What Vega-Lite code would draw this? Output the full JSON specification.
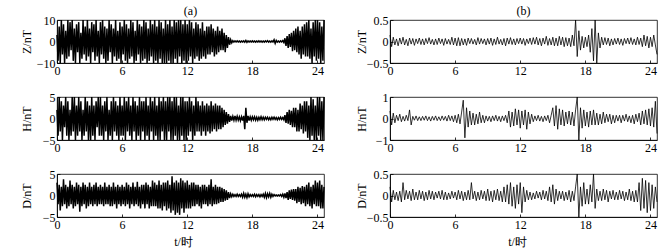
{
"$schema":"https://vega.github.io/schema/vega-lite/v6.json",
"background":"white",
"padding":{"left":19,"top":4,"right":0,"bottom":0},
"columns":2,
"bounds":"flush",
"spacing":{"row":34,"column":66},
"config":{
 "font":"Liberation Serif",
 "view":{"stroke":"black","strokeWidth":0.8},
 "axis":{"domainColor":"black","domainWidth":0.8,"tickColor":"black","tickWidth":0.8,"tickSize":-3,"labelPadding":5,"labelColor":"black","titleColor":"black","labelFont":"Liberation Serif","titleFont":"Liberation Serif","labelFontSize":12,"titleFontSize":12,"titleFontWeight":"normal","grid":false,"labelFlush":false,"titleBaseline":"middle","format":"~r"},
 "title":{"font":"Liberation Serif","fontSize":12,"fontWeight":"normal","offset":-4,"color":"black","frame":"group"},
 "line":{"color":"black","clip":true,"strokeWidth":1.5}
},
"datasets":{
"Za":[{"t":0,"v":3},{"t":0.1,"v":-9},{"t":0.2,"v":7},{"t":0.3,"v":-10},{"t":0.4,"v":10},{"t":0.5,"v":-6},{"t":0.6,"v":8},{"t":0.7,"v":-10},{"t":0.8,"v":5},{"t":0.9,"v":-8},
{"t":1,"v":10},{"t":1.1,"v":-7},{"t":1.2,"v":9},{"t":1.3,"v":-4},{"t":1.4,"v":10},{"t":1.5,"v":-9},{"t":1.6,"v":6},{"t":1.7,"v":-10},{"t":1.8,"v":8},{"t":1.9,"v":-5},
{"t":2,"v":9},{"t":2.1,"v":-10},{"t":2.2,"v":4},{"t":2.3,"v":-8},{"t":2.4,"v":10},{"t":2.5,"v":-6},{"t":2.6,"v":7},{"t":2.7,"v":-9},{"t":2.8,"v":10},{"t":2.9,"v":-7},
{"t":3,"v":6},{"t":3.1,"v":-10},{"t":3.2,"v":9},{"t":3.3,"v":-5},{"t":3.4,"v":8},{"t":3.5,"v":-9},{"t":3.6,"v":10},{"t":3.7,"v":-7},{"t":3.8,"v":5},{"t":3.9,"v":-10},
{"t":4,"v":9},{"t":4.1,"v":-6},{"t":4.2,"v":10},{"t":4.3,"v":-8},{"t":4.4,"v":7},{"t":4.5,"v":-10},{"t":4.6,"v":6},{"t":4.7,"v":-9},{"t":4.8,"v":10},{"t":4.9,"v":-5},
{"t":5,"v":8},{"t":5.1,"v":-10},{"t":5.2,"v":6},{"t":5.3,"v":-7},{"t":5.4,"v":10},{"t":5.5,"v":-9},{"t":5.6,"v":5},{"t":5.7,"v":-8},{"t":5.8,"v":9},{"t":5.9,"v":-10},
{"t":6,"v":7},{"t":6.1,"v":-6},{"t":6.2,"v":10},{"t":6.3,"v":-9},{"t":6.4,"v":8},{"t":6.5,"v":-10},{"t":6.6,"v":6},{"t":6.7,"v":-8},{"t":6.8,"v":10},{"t":6.9,"v":-7},
{"t":7,"v":9},{"t":7.1,"v":-10},{"t":7.2,"v":5},{"t":7.3,"v":-9},{"t":7.4,"v":10},{"t":7.5,"v":-6},{"t":7.6,"v":8},{"t":7.7,"v":-10},{"t":7.8,"v":7},{"t":7.9,"v":-9},
{"t":8,"v":10},{"t":8.1,"v":-8},{"t":8.2,"v":9},{"t":8.3,"v":-10},{"t":8.4,"v":6},{"t":8.5,"v":-9},{"t":8.6,"v":10},{"t":8.7,"v":-7},{"t":8.8,"v":8},{"t":8.9,"v":-10},
{"t":9,"v":10},{"t":9.1,"v":-9},{"t":9.2,"v":7},{"t":9.3,"v":-10},{"t":9.4,"v":10},{"t":9.5,"v":-8},{"t":9.6,"v":9},{"t":9.7,"v":-10},{"t":9.8,"v":6},{"t":9.9,"v":-10},
{"t":10,"v":10},{"t":10.1,"v":-10},{"t":10.2,"v":8},{"t":10.3,"v":-9},{"t":10.4,"v":10},{"t":10.5,"v":-10},{"t":10.6,"v":7},{"t":10.7,"v":-10},{"t":10.8,"v":10},{"t":10.9,"v":-8},
{"t":11,"v":9},{"t":11.1,"v":-10},{"t":11.2,"v":10},{"t":11.3,"v":-7},{"t":11.4,"v":10},{"t":11.5,"v":-10},{"t":11.6,"v":8},{"t":11.7,"v":-9},{"t":11.8,"v":10},{"t":11.9,"v":-10},
{"t":12,"v":8},{"t":12.1,"v":-9},{"t":12.2,"v":10},{"t":12.3,"v":-7},{"t":12.4,"v":9},{"t":12.5,"v":-10},{"t":12.6,"v":6},{"t":12.7,"v":-8},{"t":12.8,"v":9},{"t":12.9,"v":-7},
{"t":13,"v":8},{"t":13.1,"v":-9},{"t":13.2,"v":6},{"t":13.3,"v":-8},{"t":13.4,"v":9},{"t":13.5,"v":-7},{"t":13.6,"v":5},{"t":13.7,"v":-8},{"t":13.8,"v":7},{"t":13.9,"v":-6},
{"t":14,"v":7},{"t":14.1,"v":-6},{"t":14.2,"v":8},{"t":14.3,"v":-5},{"t":14.4,"v":6},{"t":14.5,"v":-7},{"t":14.6,"v":5},{"t":14.7,"v":-6},{"t":14.8,"v":7},{"t":14.9,"v":-5},
{"t":15,"v":5},{"t":15.1,"v":-4},{"t":15.2,"v":6},{"t":15.3,"v":-4},{"t":15.4,"v":4},{"t":15.5,"v":-5},{"t":15.6,"v":3},{"t":15.7,"v":-3},{"t":15.8,"v":2},{"t":15.9,"v":-1.5},
{"t":16,"v":0.8},{"t":16.1,"v":-0.6},{"t":16.2,"v":0.4},{"t":16.3,"v":-0.3},{"t":16.4,"v":0.3},{"t":16.5,"v":-0.2},{"t":16.6,"v":0.3},{"t":16.7,"v":-0.2},{"t":16.8,"v":0.2},{"t":16.9,"v":-0.3},
{"t":17,"v":0.2},{"t":17.1,"v":-0.2},{"t":17.2,"v":0.3},{"t":17.3,"v":-0.3},{"t":17.4,"v":0.5},{"t":17.5,"v":-0.4},{"t":17.6,"v":0.3},{"t":17.7,"v":-0.2},{"t":17.8,"v":0.2},{"t":17.9,"v":-0.2},
{"t":18,"v":0.3},{"t":18.1,"v":-0.2},{"t":18.2,"v":0.2},{"t":18.3,"v":-0.3},{"t":18.4,"v":0.2},{"t":18.5,"v":-0.2},{"t":18.6,"v":0.3},{"t":18.7,"v":-0.2},{"t":18.8,"v":0.2},{"t":18.9,"v":-0.3},
{"t":19,"v":0.2},{"t":19.1,"v":-0.3},{"t":19.2,"v":0.3},{"t":19.3,"v":-0.2},{"t":19.4,"v":0.4},{"t":19.5,"v":-0.3},{"t":19.6,"v":0.2},{"t":19.7,"v":-0.3},{"t":19.8,"v":0.3},{"t":19.9,"v":-0.2},
{"t":20,"v":0.8},{"t":20.1,"v":-0.9},{"t":20.2,"v":0.5},{"t":20.3,"v":-0.3},{"t":20.4,"v":0.2},{"t":20.5,"v":-0.3},{"t":20.6,"v":0.3},{"t":20.7,"v":-0.2},{"t":20.8,"v":0.4},{"t":20.9,"v":-0.5},
{"t":21,"v":1.5},{"t":21.1,"v":-2},{"t":21.2,"v":2.5},{"t":21.3,"v":-3},{"t":21.4,"v":3.5},{"t":21.5,"v":-2.5},{"t":21.6,"v":4},{"t":21.7,"v":-4.5},{"t":21.8,"v":5},{"t":21.9,"v":-4},
{"t":22,"v":6},{"t":22.1,"v":-5},{"t":22.2,"v":7},{"t":22.3,"v":-6},{"t":22.4,"v":5},{"t":22.5,"v":-8},{"t":22.6,"v":7},{"t":22.7,"v":-6},{"t":22.8,"v":8},{"t":22.9,"v":-7},
{"t":23,"v":9},{"t":23.1,"v":-7},{"t":23.2,"v":10},{"t":23.3,"v":-8},{"t":23.4,"v":6},{"t":23.5,"v":-10},{"t":23.6,"v":9},{"t":23.7,"v":-7},{"t":23.8,"v":10},{"t":23.9,"v":-9},
{"t":24,"v":10},{"t":24.1,"v":-8},{"t":24.2,"v":9},{"t":24.3,"v":-10},{"t":24.4,"v":7},{"t":24.5,"v":-9},{"t":24.6,"v":10}],
"Ha":[{"t":0,"v":2},{"t":0.1,"v":-4},{"t":0.2,"v":5},{"t":0.3,"v":-3},{"t":0.4,"v":4},{"t":0.5,"v":-5},{"t":0.6,"v":3},{"t":0.7,"v":-2},{"t":0.8,"v":5},{"t":0.9,"v":-4},
{"t":1,"v":4},{"t":1.1,"v":-5},{"t":1.2,"v":2},{"t":1.3,"v":-4},{"t":1.4,"v":5},{"t":1.5,"v":-3},{"t":1.6,"v":5},{"t":1.7,"v":-5},{"t":1.8,"v":3},{"t":1.9,"v":-4},
{"t":2,"v":5},{"t":2.1,"v":-3},{"t":2.2,"v":4},{"t":2.3,"v":-5},{"t":2.4,"v":2},{"t":2.5,"v":-4},{"t":2.6,"v":5},{"t":2.7,"v":-3},{"t":2.8,"v":4},{"t":2.9,"v":-5},
{"t":3,"v":3},{"t":3.1,"v":-5},{"t":3.2,"v":5},{"t":3.3,"v":-4},{"t":3.4,"v":3},{"t":3.5,"v":-5},{"t":3.6,"v":4},{"t":3.7,"v":-2},{"t":3.8,"v":5},{"t":3.9,"v":-4},
{"t":4,"v":5},{"t":4.1,"v":-4},{"t":4.2,"v":3},{"t":4.3,"v":-5},{"t":4.4,"v":4},{"t":4.5,"v":-3},{"t":4.6,"v":5},{"t":4.7,"v":-5},{"t":4.8,"v":2},{"t":4.9,"v":-4},
{"t":5,"v":4},{"t":5.1,"v":-5},{"t":5.2,"v":5},{"t":5.3,"v":-3},{"t":5.4,"v":4},{"t":5.5,"v":-4},{"t":5.6,"v":3},{"t":5.7,"v":-5},{"t":5.8,"v":5},{"t":5.9,"v":-4},
{"t":6,"v":3},{"t":6.1,"v":-4},{"t":6.2,"v":5},{"t":6.3,"v":-5},{"t":6.4,"v":4},{"t":6.5,"v":-3},{"t":6.6,"v":5},{"t":6.7,"v":-4},{"t":6.8,"v":3},{"t":6.9,"v":-5},
{"t":7,"v":5},{"t":7.1,"v":-3},{"t":7.2,"v":4},{"t":7.3,"v":-5},{"t":7.4,"v":3},{"t":7.5,"v":-4},{"t":7.6,"v":5},{"t":7.7,"v":-5},{"t":7.8,"v":4},{"t":7.9,"v":-3},
{"t":8,"v":4},{"t":8.1,"v":-5},{"t":8.2,"v":5},{"t":8.3,"v":-4},{"t":8.4,"v":3},{"t":8.5,"v":-5},{"t":8.6,"v":5},{"t":8.7,"v":-3},{"t":8.8,"v":4},{"t":8.9,"v":-5},
{"t":9,"v":5},{"t":9.1,"v":-4},{"t":9.2,"v":3},{"t":9.3,"v":-5},{"t":9.4,"v":5},{"t":9.5,"v":-5},{"t":9.6,"v":4},{"t":9.7,"v":-3},{"t":9.8,"v":5},{"t":9.9,"v":-5},
{"t":10,"v":4},{"t":10.1,"v":-5},{"t":10.2,"v":5},{"t":10.3,"v":-3},{"t":10.4,"v":5},{"t":10.5,"v":-5},{"t":10.6,"v":4},{"t":10.7,"v":-5},{"t":10.8,"v":5},{"t":10.9,"v":-4},
{"t":11,"v":5},{"t":11.1,"v":-5},{"t":11.2,"v":3},{"t":11.3,"v":-5},{"t":11.4,"v":5},{"t":11.5,"v":-4},{"t":11.6,"v":5},{"t":11.7,"v":-5},{"t":11.8,"v":4},{"t":11.9,"v":-5},
{"t":12,"v":4},{"t":12.1,"v":-4},{"t":12.2,"v":5},{"t":12.3,"v":-3},{"t":12.4,"v":4},{"t":12.5,"v":-5},{"t":12.6,"v":3},{"t":12.7,"v":-4},{"t":12.8,"v":5},{"t":12.9,"v":-3},
{"t":13,"v":4},{"t":13.1,"v":-3},{"t":13.2,"v":3},{"t":13.3,"v":-4},{"t":13.4,"v":4},{"t":13.5,"v":-3},{"t":13.6,"v":3},{"t":13.7,"v":-4},{"t":13.8,"v":3.5},{"t":13.9,"v":-3},
{"t":14,"v":3},{"t":14.1,"v":-3.5},{"t":14.2,"v":4},{"t":14.3,"v":-3},{"t":14.4,"v":3},{"t":14.5,"v":-2.5},{"t":14.6,"v":3.5},{"t":14.7,"v":-3},{"t":14.8,"v":3},{"t":14.9,"v":-2.5},
{"t":15,"v":3},{"t":15.1,"v":-2.5},{"t":15.2,"v":2.5},{"t":15.3,"v":-2},{"t":15.4,"v":2},{"t":15.5,"v":-1.5},{"t":15.6,"v":1.5},{"t":15.7,"v":-1.2},{"t":15.8,"v":1},{"t":15.9,"v":-0.8},
{"t":16,"v":0.6},{"t":16.1,"v":-0.5},{"t":16.2,"v":0.5},{"t":16.3,"v":-0.4},{"t":16.4,"v":0.6},{"t":16.5,"v":-0.4},{"t":16.6,"v":0.5},{"t":16.7,"v":-0.4},{"t":16.8,"v":0.4},{"t":16.9,"v":-0.5},
{"t":17,"v":0.4},{"t":17.1,"v":-0.5},{"t":17.2,"v":0.6},{"t":17.3,"v":-2.5},{"t":17.4,"v":2.5},{"t":17.5,"v":-1},{"t":17.6,"v":0.6},{"t":17.7,"v":-0.5},{"t":17.8,"v":0.4},{"t":17.9,"v":-0.4},
{"t":18,"v":0.4},{"t":18.1,"v":-0.3},{"t":18.2,"v":0.4},{"t":18.3,"v":-0.4},{"t":18.4,"v":0.3},{"t":18.5,"v":-0.4},{"t":18.6,"v":0.3},{"t":18.7,"v":-0.3},{"t":18.8,"v":0.4},{"t":18.9,"v":-0.3},
{"t":19,"v":0.3},{"t":19.1,"v":-0.3},{"t":19.2,"v":0.3},{"t":19.3,"v":-0.2},{"t":19.4,"v":0.3},{"t":19.5,"v":-0.3},{"t":19.6,"v":0.2},{"t":19.7,"v":-0.3},{"t":19.8,"v":0.3},{"t":19.9,"v":-0.2},
{"t":20,"v":0.3},{"t":20.1,"v":-0.2},{"t":20.2,"v":0.2},{"t":20.3,"v":-0.3},{"t":20.4,"v":0.2},{"t":20.5,"v":-0.2},{"t":20.6,"v":0.3},{"t":20.7,"v":-0.2},{"t":20.8,"v":0.2},{"t":20.9,"v":-0.3},
{"t":21,"v":0.8},{"t":21.1,"v":-1},{"t":21.2,"v":1.5},{"t":21.3,"v":-1.2},{"t":21.4,"v":2},{"t":21.5,"v":-1.5},{"t":21.6,"v":1.8},{"t":21.7,"v":-2},{"t":21.8,"v":2.5},{"t":21.9,"v":-2},
{"t":22,"v":2.5},{"t":22.1,"v":-3},{"t":22.2,"v":2},{"t":22.3,"v":-3},{"t":22.4,"v":3.5},{"t":22.5,"v":-2.5},{"t":22.6,"v":3},{"t":22.7,"v":-3.5},{"t":22.8,"v":4},{"t":22.9,"v":-3},
{"t":23,"v":4},{"t":23.1,"v":-4.5},{"t":23.2,"v":3},{"t":23.3,"v":-5},{"t":23.4,"v":5},{"t":23.5,"v":-4},{"t":23.6,"v":4.5},{"t":23.7,"v":-5},{"t":23.8,"v":3},{"t":23.9,"v":-5},
{"t":24,"v":5},{"t":24.1,"v":-4},{"t":24.2,"v":5},{"t":24.3,"v":-5},{"t":24.4,"v":4},{"t":24.5,"v":-5},{"t":24.6,"v":5}],
"Da":[{"t":0,"v":3},{"t":0.1,"v":-2},{"t":0.2,"v":2.5},{"t":0.3,"v":-3.5},{"t":0.4,"v":2},{"t":0.5,"v":-2.5},{"t":0.6,"v":3.8},{"t":0.7,"v":-2},{"t":0.8,"v":2.5},{"t":0.9,"v":-3},
{"t":1,"v":2},{"t":1.1,"v":-2.5},{"t":1.2,"v":3.5},{"t":1.3,"v":-2},{"t":1.4,"v":2.5},{"t":1.5,"v":-3},{"t":1.6,"v":2},{"t":1.7,"v":-2.5},{"t":1.8,"v":3},{"t":1.9,"v":-2},
{"t":2,"v":2.5},{"t":2.1,"v":-3.8},{"t":2.2,"v":2},{"t":2.3,"v":-2.5},{"t":2.4,"v":3},{"t":2.5,"v":-2},{"t":2.6,"v":2.5},{"t":2.7,"v":-3},{"t":2.8,"v":2},{"t":2.9,"v":-2.5},
{"t":3,"v":3},{"t":3.1,"v":-2},{"t":3.2,"v":2},{"t":3.3,"v":-2.5},{"t":3.4,"v":2.5},{"t":3.5,"v":-2},{"t":3.6,"v":3},{"t":3.7,"v":-2.5},{"t":3.8,"v":2},{"t":3.9,"v":-2},
{"t":4,"v":2.5},{"t":4.1,"v":-2},{"t":4.2,"v":2},{"t":4.3,"v":-2.5},{"t":4.4,"v":3},{"t":4.5,"v":-2},{"t":4.6,"v":2},{"t":4.7,"v":-2},{"t":4.8,"v":2.5},{"t":4.9,"v":-2.5},
{"t":5,"v":2},{"t":5.1,"v":-2.5},{"t":5.2,"v":3},{"t":5.3,"v":-2},{"t":5.4,"v":2},{"t":5.5,"v":-3},{"t":5.6,"v":2.5},{"t":5.7,"v":-2},{"t":5.8,"v":2},{"t":5.9,"v":-2.5},
{"t":6,"v":2.5},{"t":6.1,"v":-2},{"t":6.2,"v":2},{"t":6.3,"v":-2.5},{"t":6.4,"v":3},{"t":6.5,"v":-2},{"t":6.6,"v":2.5},{"t":6.7,"v":-3},{"t":6.8,"v":2},{"t":6.9,"v":-2},
{"t":7,"v":3},{"t":7.1,"v":-2.5},{"t":7.2,"v":2},{"t":7.3,"v":-2},{"t":7.4,"v":3.2},{"t":7.5,"v":-2.5},{"t":7.6,"v":2},{"t":7.7,"v":-3},{"t":7.8,"v":2.5},{"t":7.9,"v":-2},
{"t":8,"v":2.5},{"t":8.1,"v":-3},{"t":8.2,"v":3},{"t":8.3,"v":-2},{"t":8.4,"v":2.5},{"t":8.5,"v":-3},{"t":8.6,"v":2},{"t":8.7,"v":-2.5},{"t":8.8,"v":3.5},{"t":8.9,"v":-2.5},
{"t":9,"v":3},{"t":9.1,"v":-2.5},{"t":9.2,"v":2.5},{"t":9.3,"v":-3},{"t":9.4,"v":3.5},{"t":9.5,"v":-3},{"t":9.6,"v":2.5},{"t":9.7,"v":-3.5},{"t":9.8,"v":3},{"t":9.9,"v":-2.5},
{"t":10,"v":3},{"t":10.1,"v":-3.5},{"t":10.2,"v":3.5},{"t":10.3,"v":-3},{"t":10.4,"v":2.5},{"t":10.5,"v":-4},{"t":10.6,"v":4.5},{"t":10.7,"v":-3.5},{"t":10.8,"v":3},{"t":10.9,"v":-4.5},
{"t":11,"v":3.5},{"t":11.1,"v":-4},{"t":11.2,"v":3},{"t":11.3,"v":-4.5},{"t":11.4,"v":4},{"t":11.5,"v":-3},{"t":11.6,"v":3.5},{"t":11.7,"v":-4},{"t":11.8,"v":3},{"t":11.9,"v":-3},
{"t":12,"v":3.5},{"t":12.1,"v":-3},{"t":12.2,"v":2.5},{"t":12.3,"v":-3},{"t":12.4,"v":3},{"t":12.5,"v":-2.5},{"t":12.6,"v":3},{"t":12.7,"v":-2.5},{"t":12.8,"v":2.5},{"t":12.9,"v":-2},
{"t":13,"v":2.5},{"t":13.1,"v":-2.5},{"t":13.2,"v":2},{"t":13.3,"v":-3},{"t":13.4,"v":2.5},{"t":13.5,"v":-2},{"t":13.6,"v":2.5},{"t":13.7,"v":-2},{"t":13.8,"v":2},{"t":13.9,"v":-2.5},
{"t":14,"v":2.5},{"t":14.1,"v":-2},{"t":14.2,"v":3.8},{"t":14.3,"v":-2.5},{"t":14.4,"v":2},{"t":14.5,"v":-2},{"t":14.6,"v":2.5},{"t":14.7,"v":-2},{"t":14.8,"v":2},{"t":14.9,"v":-1.8},
{"t":15,"v":2},{"t":15.1,"v":-1.5},{"t":15.2,"v":1.8},{"t":15.3,"v":-1.5},{"t":15.4,"v":1.5},{"t":15.5,"v":-1.2},{"t":15.6,"v":1.2},{"t":15.7,"v":-1},{"t":15.8,"v":0.8},{"t":15.9,"v":-0.6},
{"t":16,"v":0.4},{"t":16.1,"v":-0.3},{"t":16.2,"v":0.3},{"t":16.3,"v":-0.2},{"t":16.4,"v":0.2},{"t":16.5,"v":-0.2},{"t":16.6,"v":0.3},{"t":16.7,"v":-0.2},{"t":16.8,"v":0.2},{"t":16.9,"v":-0.2},
{"t":17,"v":0.3},{"t":17.1,"v":-0.4},{"t":17.2,"v":0.5},{"t":17.3,"v":-0.4},{"t":17.4,"v":0.3},{"t":17.5,"v":-0.5},{"t":17.6,"v":0.4},{"t":17.7,"v":-0.3},{"t":17.8,"v":0.2},{"t":17.9,"v":-0.2},
{"t":18,"v":0.2},{"t":18.1,"v":-0.2},{"t":18.2,"v":0.3},{"t":18.3,"v":-0.3},{"t":18.4,"v":0.2},{"t":18.5,"v":-0.2},{"t":18.6,"v":0.2},{"t":18.7,"v":-0.3},{"t":18.8,"v":0.2},{"t":18.9,"v":-0.2},
{"t":19,"v":0.3},{"t":19.1,"v":-0.4},{"t":19.2,"v":0.5},{"t":19.3,"v":-0.5},{"t":19.4,"v":0.4},{"t":19.5,"v":-0.3},{"t":19.6,"v":0.5},{"t":19.7,"v":-0.4},{"t":19.8,"v":0.3},{"t":19.9,"v":-0.2},
{"t":20,"v":0.2},{"t":20.1,"v":-0.1},{"t":20.2,"v":0.1},{"t":20.3,"v":-0.1},{"t":20.4,"v":0.1},{"t":20.5,"v":-0.1},{"t":20.6,"v":0.2},{"t":20.7,"v":-0.2},{"t":20.8,"v":0.3},{"t":20.9,"v":-0.4},
{"t":21,"v":0.5},{"t":21.1,"v":-0.6},{"t":21.2,"v":0.8},{"t":21.3,"v":-1},{"t":21.4,"v":1.2},{"t":21.5,"v":-0.8},{"t":21.6,"v":1.4},{"t":21.7,"v":-1},{"t":21.8,"v":1.5},{"t":21.9,"v":-1.2},
{"t":22,"v":1.5},{"t":22.1,"v":-1.8},{"t":22.2,"v":2},{"t":22.3,"v":-1.5},{"t":22.4,"v":1.8},{"t":22.5,"v":-2},{"t":22.6,"v":2.2},{"t":22.7,"v":-1.8},{"t":22.8,"v":2},{"t":22.9,"v":-2.5},
{"t":23,"v":2.5},{"t":23.1,"v":-2},{"t":23.2,"v":3},{"t":23.3,"v":-2.5},{"t":23.4,"v":2},{"t":23.5,"v":-3},{"t":23.6,"v":2.5},{"t":23.7,"v":-2},{"t":23.8,"v":3.5},{"t":23.9,"v":-2.5},
{"t":24,"v":3},{"t":24.1,"v":-2.5},{"t":24.2,"v":3.5},{"t":24.3,"v":-3},{"t":24.4,"v":2.5},{"t":24.5,"v":-3},{"t":24.6,"v":2}],
"Zb":[{"t":0,"v":0.15},{"t":0.15,"v":-0.12},{"t":0.3,"v":0.1},{"t":0.45,"v":-0.08},{"t":0.6,"v":0.06},{"t":0.75,"v":-0.1},{"t":0.9,"v":0.08},{"t":1.05,"v":-0.06},{"t":1.2,"v":0.1},{"t":1.35,"v":-0.08},{"t":1.5,"v":0.05},{"t":1.65,"v":-0.1},{"t":1.8,"v":0.08},{"t":1.95,"v":-0.06},{"t":2.1,"v":0.07},{"t":2.25,"v":-0.09},{"t":2.4,"v":0.06},{"t":2.55,"v":-0.05},{"t":2.7,"v":0.08},{"t":2.85,"v":-0.07},
{"t":3,"v":0.06},{"t":3.15,"v":-0.08},{"t":3.3,"v":0.07},{"t":3.45,"v":-0.05},{"t":3.6,"v":0.09},{"t":3.75,"v":-0.06},{"t":3.9,"v":0.05},{"t":4.05,"v":-0.08},{"t":4.2,"v":0.06},{"t":4.35,"v":-0.07},{"t":4.5,"v":0.08},{"t":4.65,"v":-0.05},{"t":4.8,"v":0.06},{"t":4.95,"v":-0.09},{"t":5.1,"v":0.07},{"t":5.25,"v":-0.06},{"t":5.4,"v":0.05},{"t":5.55,"v":-0.07},{"t":5.7,"v":0.1},{"t":5.85,"v":-0.08},
{"t":6,"v":0.08},{"t":6.15,"v":-0.1},{"t":6.3,"v":0.09},{"t":6.45,"v":-0.1},{"t":6.6,"v":0.07},{"t":6.75,"v":-0.08},{"t":6.9,"v":0.06},{"t":7.05,"v":-0.09},{"t":7.2,"v":0.08},{"t":7.35,"v":-0.05},{"t":7.5,"v":0.07},{"t":7.65,"v":-0.06},{"t":7.8,"v":0.05},{"t":7.95,"v":-0.08},{"t":8.1,"v":0.09},{"t":8.25,"v":-0.06},{"t":8.4,"v":0.07},{"t":8.55,"v":-0.05},{"t":8.7,"v":0.06},{"t":8.85,"v":-0.08},
{"t":9,"v":0.07},{"t":9.15,"v":-0.06},{"t":9.3,"v":0.08},{"t":9.45,"v":-0.09},{"t":9.6,"v":0.06},{"t":9.75,"v":-0.07},{"t":9.9,"v":0.1},{"t":10.05,"v":-0.06},{"t":10.2,"v":0.05},{"t":10.35,"v":-0.08},{"t":10.5,"v":0.07},{"t":10.65,"v":-0.1},{"t":10.8,"v":0.08},{"t":10.95,"v":-0.06},{"t":11.1,"v":0.09},{"t":11.25,"v":-0.07},{"t":11.4,"v":0.06},{"t":11.55,"v":-0.08},{"t":11.7,"v":0.07},{"t":11.85,"v":-0.05},
{"t":12,"v":0.08},{"t":12.15,"v":-0.06},{"t":12.3,"v":0.07},{"t":12.45,"v":-0.09},{"t":12.6,"v":0.06},{"t":12.75,"v":-0.05},{"t":12.9,"v":0.08},{"t":13.05,"v":-0.07},{"t":13.2,"v":0.09},{"t":13.35,"v":-0.06},{"t":13.5,"v":0.1},{"t":13.65,"v":-0.08},{"t":13.8,"v":0.07},{"t":13.95,"v":-0.1},{"t":14.1,"v":0.08},{"t":14.25,"v":-0.06},{"t":14.4,"v":0.12},{"t":14.55,"v":-0.09},{"t":14.7,"v":0.07},{"t":14.85,"v":-0.08},
{"t":15,"v":0.1},{"t":15.15,"v":-0.1},{"t":15.3,"v":0.08},{"t":15.45,"v":-0.1},{"t":15.6,"v":0.12},{"t":15.75,"v":-0.08},{"t":15.9,"v":0.1},{"t":16.05,"v":-0.12},{"t":16.2,"v":0.09},{"t":16.35,"v":-0.1},{"t":16.5,"v":0.08},{"t":16.65,"v":-0.12},{"t":16.8,"v":0.15},{"t":16.95,"v":-0.1},{"t":17.1,"v":0.5},{"t":17.25,"v":-0.35},{"t":17.4,"v":0.25},{"t":17.55,"v":-0.2},{"t":17.7,"v":0.12},{"t":17.85,"v":-0.15},
{"t":18,"v":0.1},{"t":18.15,"v":-0.12},{"t":18.3,"v":0.15},{"t":18.45,"v":-0.25},{"t":18.6,"v":0.3},{"t":18.75,"v":-0.45},{"t":18.9,"v":0.5},{"t":19.05,"v":-0.5},{"t":19.2,"v":0.2},{"t":19.35,"v":-0.15},{"t":19.5,"v":0.1},{"t":19.65,"v":-0.08},{"t":19.8,"v":0.09},{"t":19.95,"v":-0.07},{"t":20.1,"v":0.08},{"t":20.25,"v":-0.1},{"t":20.4,"v":0.06},{"t":20.55,"v":-0.08},{"t":20.7,"v":0.07},{"t":20.85,"v":-0.06},
{"t":21,"v":0.08},{"t":21.15,"v":-0.07},{"t":21.3,"v":0.06},{"t":21.45,"v":-0.09},{"t":21.6,"v":0.07},{"t":21.75,"v":-0.05},{"t":21.9,"v":0.08},{"t":22.05,"v":-0.06},{"t":22.2,"v":0.09},{"t":22.35,"v":-0.07},{"t":22.5,"v":0.06},{"t":22.65,"v":-0.08},{"t":22.8,"v":0.1},{"t":22.95,"v":-0.07},{"t":23.1,"v":0.08},{"t":23.25,"v":-0.12},{"t":23.4,"v":0.15},{"t":23.55,"v":-0.1},{"t":23.7,"v":0.12},{"t":23.85,"v":-0.15},
{"t":24,"v":0.1},{"t":24.15,"v":-0.12},{"t":24.3,"v":0.15},{"t":24.45,"v":-0.08},{"t":24.6,"v":-0.3}],
"Hb":[{"t":0,"v":0.35},{"t":0.15,"v":-0.3},{"t":0.3,"v":0.25},{"t":0.45,"v":-0.2},{"t":0.6,"v":0.15},{"t":0.75,"v":-0.1},{"t":0.9,"v":0.2},{"t":1.05,"v":-0.15},{"t":1.2,"v":0.1},{"t":1.35,"v":-0.12},{"t":1.5,"v":0.15},{"t":1.65,"v":-0.1},{"t":1.8,"v":0.4},{"t":1.95,"v":-0.3},{"t":2.1,"v":0.1},{"t":2.25,"v":-0.08},{"t":2.4,"v":0.12},{"t":2.55,"v":-0.1},{"t":2.7,"v":0.08},{"t":2.85,"v":-0.1},
{"t":3,"v":0.1},{"t":3.15,"v":-0.08},{"t":3.3,"v":0.12},{"t":3.45,"v":-0.1},{"t":3.6,"v":0.08},{"t":3.75,"v":-0.12},{"t":3.9,"v":0.1},{"t":4.05,"v":-0.08},{"t":4.2,"v":0.12},{"t":4.35,"v":-0.1},{"t":4.5,"v":0.08},{"t":4.65,"v":-0.1},{"t":4.8,"v":0.12},{"t":4.95,"v":-0.08},{"t":5.1,"v":0.1},{"t":5.25,"v":-0.12},{"t":5.4,"v":0.15},{"t":5.55,"v":-0.1},{"t":5.7,"v":0.12},{"t":5.85,"v":-0.15},
{"t":6,"v":0.15},{"t":6.15,"v":-0.2},{"t":6.3,"v":0.2},{"t":6.45,"v":-0.25},{"t":6.6,"v":0.3},{"t":6.75,"v":0.85},{"t":6.9,"v":-0.9},{"t":7.05,"v":0.5},{"t":7.2,"v":-0.4},{"t":7.35,"v":0.35},{"t":7.5,"v":-0.3},{"t":7.65,"v":0.25},{"t":7.8,"v":-0.3},{"t":7.95,"v":0.2},{"t":8.1,"v":-0.25},{"t":8.25,"v":0.3},{"t":8.4,"v":-0.2},{"t":8.55,"v":0.15},{"t":8.7,"v":-0.2},{"t":8.85,"v":0.12},
{"t":9,"v":-0.12},{"t":9.15,"v":0.1},{"t":9.3,"v":-0.15},{"t":9.45,"v":0.12},{"t":9.6,"v":-0.1},{"t":9.75,"v":0.15},{"t":9.9,"v":-0.12},{"t":10.05,"v":0.1},{"t":10.2,"v":-0.15},{"t":10.35,"v":0.12},{"t":10.5,"v":-0.1},{"t":10.65,"v":0.15},{"t":10.8,"v":-0.2},{"t":10.95,"v":0.35},{"t":11.1,"v":-0.4},{"t":11.25,"v":0.3},{"t":11.4,"v":-0.35},{"t":11.55,"v":0.45},{"t":11.7,"v":-0.3},{"t":11.85,"v":0.4},
{"t":12,"v":-0.45},{"t":12.15,"v":0.35},{"t":12.3,"v":-0.3},{"t":12.45,"v":0.4},{"t":12.6,"v":-0.5},{"t":12.75,"v":0.3},{"t":12.9,"v":-0.25},{"t":13.05,"v":0.2},{"t":13.2,"v":-0.15},{"t":13.35,"v":0.12},{"t":13.5,"v":-0.1},{"t":13.65,"v":0.15},{"t":13.8,"v":-0.12},{"t":13.95,"v":0.1},{"t":14.1,"v":-0.15},{"t":14.25,"v":0.12},{"t":14.4,"v":-0.1},{"t":14.55,"v":0.15},{"t":14.7,"v":-0.2},{"t":14.85,"v":0.15},
{"t":15,"v":0.5},{"t":15.15,"v":-0.35},{"t":15.3,"v":0.6},{"t":15.45,"v":-0.5},{"t":15.6,"v":0.45},{"t":15.75,"v":-0.3},{"t":15.9,"v":0.4},{"t":16.05,"v":-0.35},{"t":16.2,"v":0.3},{"t":16.35,"v":-0.25},{"t":16.5,"v":0.35},{"t":16.65,"v":-0.3},{"t":16.8,"v":0.3},{"t":16.95,"v":-0.35},{"t":17.1,"v":0.4},{"t":17.25,"v":1},{"t":17.4,"v":-1},{"t":17.55,"v":0.5},{"t":17.7,"v":-0.45},{"t":17.85,"v":0.4},
{"t":18,"v":-0.35},{"t":18.15,"v":0.3},{"t":18.3,"v":-0.4},{"t":18.45,"v":0.35},{"t":18.6,"v":-0.3},{"t":18.75,"v":0.4},{"t":18.9,"v":-0.3},{"t":19.05,"v":0.25},{"t":19.2,"v":-0.3},{"t":19.35,"v":0.2},{"t":19.5,"v":-0.25},{"t":19.65,"v":0.3},{"t":19.8,"v":-0.2},{"t":19.95,"v":0.2},{"t":20.1,"v":-0.15},{"t":20.25,"v":0.2},{"t":20.4,"v":-0.25},{"t":20.55,"v":0.15},{"t":20.7,"v":-0.2},{"t":20.85,"v":0.15},
{"t":21,"v":-0.12},{"t":21.15,"v":0.15},{"t":21.3,"v":-0.2},{"t":21.45,"v":0.15},{"t":21.6,"v":-0.12},{"t":21.75,"v":0.2},{"t":21.9,"v":-0.15},{"t":22.05,"v":0.12},{"t":22.2,"v":-0.2},{"t":22.35,"v":0.15},{"t":22.5,"v":-0.25},{"t":22.65,"v":0.2},{"t":22.8,"v":-0.15},{"t":22.95,"v":0.25},{"t":23.1,"v":-0.3},{"t":23.25,"v":0.35},{"t":23.4,"v":-0.25},{"t":23.55,"v":0.4},{"t":23.7,"v":-0.3},{"t":23.85,"v":0.45},
{"t":24,"v":-0.35},{"t":24.15,"v":0.5},{"t":24.3,"v":-0.4},{"t":24.45,"v":0.8},{"t":24.6,"v":-0.7}],
"Db":[{"t":0,"v":0.2},{"t":0.15,"v":-0.15},{"t":0.3,"v":0.12},{"t":0.45,"v":-0.1},{"t":0.6,"v":0.08},{"t":0.75,"v":-0.12},{"t":0.9,"v":0.1},{"t":1.05,"v":-0.15},{"t":1.2,"v":0.3},{"t":1.35,"v":-0.1},{"t":1.5,"v":0.12},{"t":1.65,"v":-0.08},{"t":1.8,"v":0.1},{"t":1.95,"v":-0.12},{"t":2.1,"v":0.15},{"t":2.25,"v":-0.1},{"t":2.4,"v":0.08},{"t":2.55,"v":-0.1},{"t":2.7,"v":0.12},{"t":2.85,"v":-0.08},
{"t":3,"v":0.1},{"t":3.15,"v":-0.12},{"t":3.3,"v":0.08},{"t":3.45,"v":-0.1},{"t":3.6,"v":0.12},{"t":3.75,"v":-0.08},{"t":3.9,"v":0.1},{"t":4.05,"v":-0.1},{"t":4.2,"v":0.08},{"t":4.35,"v":-0.06},{"t":4.5,"v":0.1},{"t":4.65,"v":-0.08},{"t":4.8,"v":0.12},{"t":4.95,"v":-0.1},{"t":5.1,"v":0.08},{"t":5.25,"v":-0.1},{"t":5.4,"v":0.06},{"t":5.55,"v":-0.08},{"t":5.7,"v":0.1},{"t":5.85,"v":-0.06},
{"t":6,"v":0.08},{"t":6.15,"v":-0.1},{"t":6.3,"v":0.12},{"t":6.45,"v":-0.08},{"t":6.6,"v":0.1},{"t":6.75,"v":-0.12},{"t":6.9,"v":0.08},{"t":7.05,"v":-0.1},{"t":7.2,"v":0.12},{"t":7.35,"v":-0.1},{"t":7.5,"v":0.3},{"t":7.65,"v":-0.08},{"t":7.8,"v":0.1},{"t":7.95,"v":-0.12},{"t":8.1,"v":0.08},{"t":8.25,"v":-0.1},{"t":8.4,"v":0.12},{"t":8.55,"v":-0.08},{"t":8.7,"v":0.1},{"t":8.85,"v":-0.12},
{"t":9,"v":0.15},{"t":9.15,"v":-0.12},{"t":9.3,"v":0.1},{"t":9.45,"v":-0.15},{"t":9.6,"v":0.12},{"t":9.75,"v":-0.1},{"t":9.9,"v":0.15},{"t":10.05,"v":-0.12},{"t":10.2,"v":0.1},{"t":10.35,"v":-0.15},{"t":10.5,"v":0.2},{"t":10.65,"v":-0.15},{"t":10.8,"v":0.25},{"t":10.95,"v":-0.2},{"t":11.1,"v":0.3},{"t":11.25,"v":-0.25},{"t":11.4,"v":0.2},{"t":11.55,"v":-0.3},{"t":11.7,"v":0.25},{"t":11.85,"v":-0.2},
{"t":12,"v":0.3},{"t":12.15,"v":-0.4},{"t":12.3,"v":0.2},{"t":12.45,"v":-0.15},{"t":12.6,"v":0.12},{"t":12.75,"v":-0.1},{"t":12.9,"v":0.08},{"t":13.05,"v":-0.1},{"t":13.2,"v":0.06},{"t":13.35,"v":-0.08},{"t":13.5,"v":0.1},{"t":13.65,"v":-0.06},{"t":13.8,"v":0.08},{"t":13.95,"v":-0.1},{"t":14.1,"v":0.12},{"t":14.25,"v":-0.08},{"t":14.4,"v":0.1},{"t":14.55,"v":-0.12},{"t":14.7,"v":0.2},{"t":14.85,"v":-0.15},
{"t":15,"v":0.25},{"t":15.15,"v":-0.2},{"t":15.3,"v":0.15},{"t":15.45,"v":-0.12},{"t":15.6,"v":0.1},{"t":15.75,"v":-0.08},{"t":15.9,"v":0.1},{"t":16.05,"v":-0.12},{"t":16.2,"v":0.08},{"t":16.35,"v":-0.1},{"t":16.5,"v":0.12},{"t":16.65,"v":-0.15},{"t":16.8,"v":0.1},{"t":16.95,"v":-0.12},{"t":17.1,"v":0.2},{"t":17.25,"v":0.5},{"t":17.4,"v":-0.5},{"t":17.55,"v":0.2},{"t":17.7,"v":-0.25},{"t":17.85,"v":0.3},
{"t":18,"v":-0.2},{"t":18.15,"v":0.15},{"t":18.3,"v":-0.2},{"t":18.45,"v":0.25},{"t":18.6,"v":-0.15},{"t":18.75,"v":0.5},{"t":18.9,"v":-0.3},{"t":19.05,"v":0.15},{"t":19.2,"v":-0.12},{"t":19.35,"v":0.1},{"t":19.5,"v":-0.12},{"t":19.65,"v":0.15},{"t":19.8,"v":-0.1},{"t":19.95,"v":0.12},{"t":20.1,"v":-0.15},{"t":20.25,"v":0.1},{"t":20.4,"v":-0.08},{"t":20.55,"v":0.12},{"t":20.7,"v":-0.1},{"t":20.85,"v":0.08},
{"t":21,"v":-0.1},{"t":21.15,"v":0.12},{"t":21.3,"v":-0.08},{"t":21.45,"v":0.1},{"t":21.6,"v":-0.12},{"t":21.75,"v":0.08},{"t":21.9,"v":-0.1},{"t":22.05,"v":0.15},{"t":22.2,"v":-0.12},{"t":22.35,"v":0.1},{"t":22.5,"v":-0.15},{"t":22.65,"v":0.12},{"t":22.8,"v":-0.15},{"t":22.95,"v":0.3},{"t":23.1,"v":-0.35},{"t":23.25,"v":0.4},{"t":23.4,"v":-0.3},{"t":23.55,"v":0.35},{"t":23.7,"v":-0.4},{"t":23.85,"v":0.3},
{"t":24,"v":-0.35},{"t":24.15,"v":0.25},{"t":24.3,"v":-0.3},{"t":24.45,"v":0.2},{"t":24.6,"v":-0.15}]
},
"concat":[
{"title":"(a)","data":{"name":"Za"},"width":267,"height":43,"mark":{"type":"line"},
 "encoding":{"x":{"field":"t","type":"quantitative","scale":{"domain":[0,24.6],"nice":false},"axis":{"values":[0,6,12,18,24],"title":null}},
 "y":{"field":"v","type":"quantitative","scale":{"domain":[-10,10],"nice":false},"axis":{"values":[-10,0,10],"title":"Z/nT","titleX":-31,"titleY":21.5}}}},
{"title":"(b)","data":{"name":"Zb"},"width":267,"height":43,"mark":{"type":"line","strokeWidth":0.8},
 "encoding":{"x":{"field":"t","type":"quantitative","scale":{"domain":[0,24.6],"nice":false},"axis":{"values":[0,6,12,18,24],"title":null}},
 "y":{"field":"v","type":"quantitative","scale":{"domain":[-0.5,0.5],"nice":false},"axis":{"values":[-0.5,0,0.5],"title":"Z/nT","titleX":-29,"titleY":21.5}}}},
{"data":{"name":"Ha"},"width":267,"height":43,"mark":{"type":"line"},
 "encoding":{"x":{"field":"t","type":"quantitative","scale":{"domain":[0,24.6],"nice":false},"axis":{"values":[0,6,12,18,24],"title":null}},
 "y":{"field":"v","type":"quantitative","scale":{"domain":[-5,5],"nice":false},"axis":{"values":[-5,0,5],"title":"H/nT","titleX":-31,"titleY":21.5}}}},
{"data":{"name":"Hb"},"width":267,"height":43,"mark":{"type":"line","strokeWidth":0.8},
 "encoding":{"x":{"field":"t","type":"quantitative","scale":{"domain":[0,24.6],"nice":false},"axis":{"values":[0,6,12,18,24],"title":null}},
 "y":{"field":"v","type":"quantitative","scale":{"domain":[-1,1],"nice":false},"axis":{"values":[-1,0,1],"title":"H/nT","titleX":-29,"titleY":21.5}}}},
{"data":{"name":"Da"},"width":267,"height":43,"mark":{"type":"line"},
 "encoding":{"x":{"field":"t","type":"quantitative","scale":{"domain":[0,24.6],"nice":false},"axis":{"values":[0,6,12,18,24],"title":"t/时","titleX":126,"titleY":24}},
 "y":{"field":"v","type":"quantitative","scale":{"domain":[-5,5],"nice":false},"axis":{"values":[-5,0,5],"title":"D/nT","titleX":-31,"titleY":21.5}}}},
{"data":{"name":"Db"},"width":267,"height":43,"mark":{"type":"line","strokeWidth":0.8},
 "encoding":{"x":{"field":"t","type":"quantitative","scale":{"domain":[0,24.6],"nice":false},"axis":{"values":[0,6,12,18,24],"title":"t/时","titleX":127,"titleY":24}},
 "y":{"field":"v","type":"quantitative","scale":{"domain":[-0.5,0.5],"nice":false},"axis":{"values":[-0.5,0,0.5],"title":"D/nT","titleX":-29,"titleY":21.5}}}}
]
}
